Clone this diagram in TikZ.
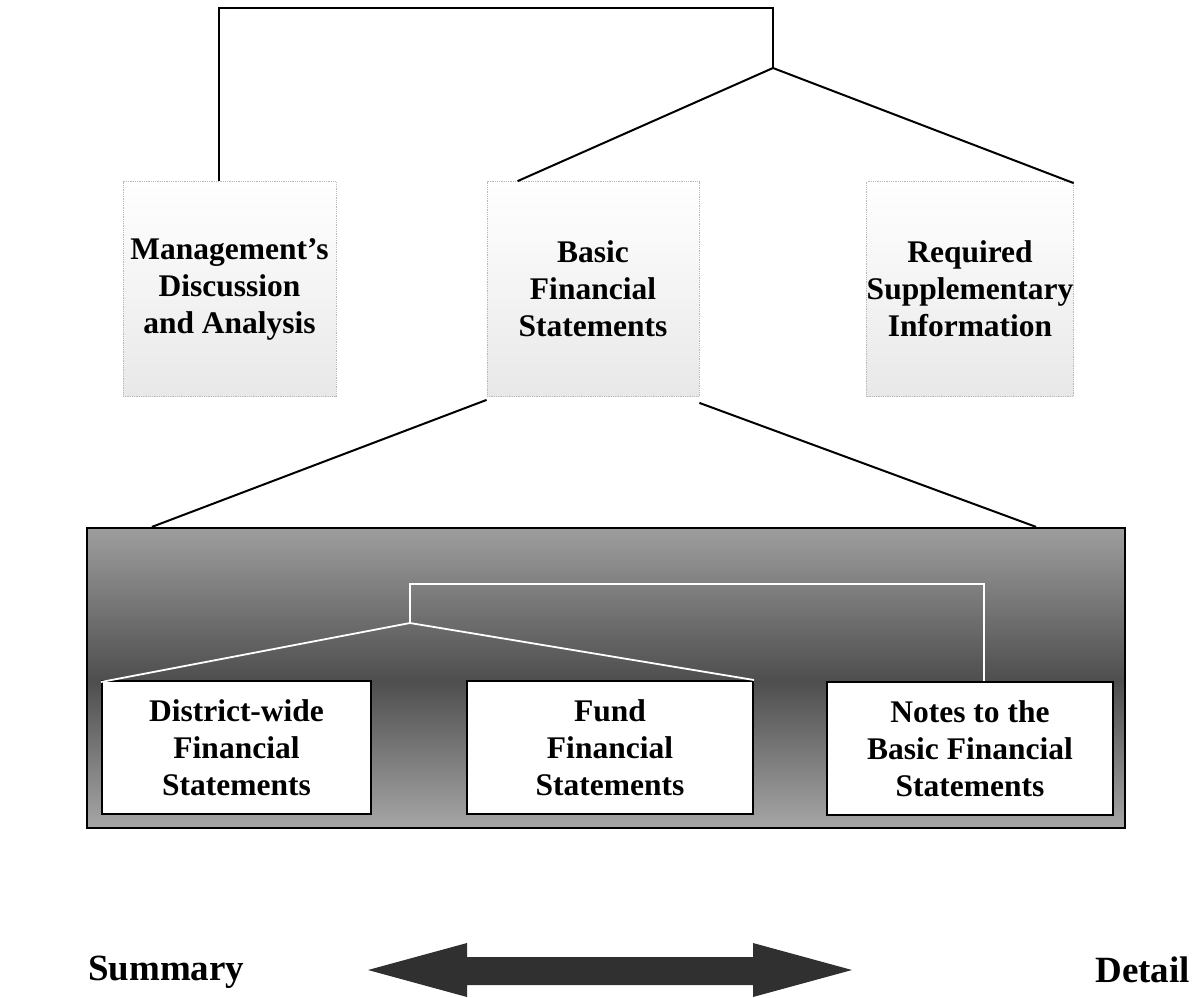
\documentclass[tikz,border=0pt]{standalone}
\usepackage{fontspec}
\setmainfont{Liberation Serif}
\usetikzlibrary{calc}
\definecolor{arrowgray}{HTML}{303030}
\definecolor{bandtop}{HTML}{9E9E9E}
\definecolor{bandmid}{HTML}{8A8A8A}
\definecolor{banddark}{HTML}{4E4E4E}
\definecolor{bandlowmid}{HTML}{7C7C7C}
\definecolor{bandlow}{HTML}{A6A6A6}
\tikzset{
  topbox/.style={draw=gray!55, densely dotted, line width=0.8pt, top color=white, middle color=white!96!black, bottom color=gray!18,
    minimum width=213pt, minimum height=215pt, inner sep=0pt, align=center,
    font=\fontsize{31.5}{37}\selectfont\bfseries},
  innerbox/.style={draw=black, line width=2pt, fill=white, minimum height=133pt, inner sep=0pt, align=center,
    font=\fontsize{31.5}{37}\selectfont\bfseries},
  blackline/.style={draw=black, line width=2pt},
  whiteline/.style={draw=white, line width=1.8pt},
  sidelabel/.style={font=\fontsize{37}{40}\selectfont\bfseries, inner sep=0pt}
}
\begin{document}
\begin{tikzpicture}[x=1pt,y=-1pt]
\useasboundingbox (0,0) rectangle (1200,997);

% top boxes
\node[topbox] (mda) at (229.5,289) {Management's\\Discussion\\and Analysis};
\node[topbox, minimum width=212pt] (bfs) at (593,289) {Basic\\Financial\\Statements};
\node[topbox, minimum width=204pt] (rsi) at (970,289) {Required\\Supplementary\\Information};

% top connectors
\coordinate (top) at (773,8);
\coordinate (j) at (773,68);
\draw[blackline] ([xshift=-10.5pt]mda.north) |- (top) -- (j);
\draw[blackline] ([xshift=31pt]bfs.north west) -- (j) -- ([yshift=-2pt]rsi.north east);

% big group box shading
\shade[top color=bandtop, middle color=bandmid, bottom color=banddark] (87,528) rectangle (1125,681);
\shade[top color=banddark, middle color=bandlowmid, bottom color=bandlow] (87,681) rectangle (1125,828);
\node[draw=black, line width=2.2pt, minimum width=1038pt, minimum height=300pt, inner sep=0pt] (big) at (606,678) {};

\draw[blackline] ([yshift=-3pt]bfs.south west) -- ([xshift=66pt]big.north west);
\draw[blackline] ([yshift=-6pt]bfs.south east) -- ([xshift=-90pt]big.north east);

% inner boxes
\node[innerbox, minimum width=269pt] (dist) at (236.5,747.5) {District-wide\\Financial\\Statements};
\node[innerbox, minimum width=286pt] (fund) at (610,747.5) {Fund\\Financial\\Statements};
\node[innerbox, minimum width=286pt] (notes) at (970,748.5) {Notes to the\\Basic Financial\\Statements};

% white connectors
\coordinate (wa) at (410,623);
\coordinate (wt) at (410,584);
\draw[whiteline] ([yshift=-2pt]dist.north west) -- (wa) -- (fund.north east);
\draw[whiteline] (wa) -- (wt) -| ([xshift=14pt]notes.north);

% bottom
\node[sidelabel, anchor=base west] (summary) at (88,980) {Summary};
\node[sidelabel, anchor=base east] (detail) at (1190,982) {Detail};
\fill[arrowgray] (368,970) -- (467,943) -- (467,957) -- (753,957) -- (753,943) -- (852,970)
  -- (753,997) -- (753,985) -- (467,985) -- (467,997) -- cycle;
\end{tikzpicture}
\end{document}
